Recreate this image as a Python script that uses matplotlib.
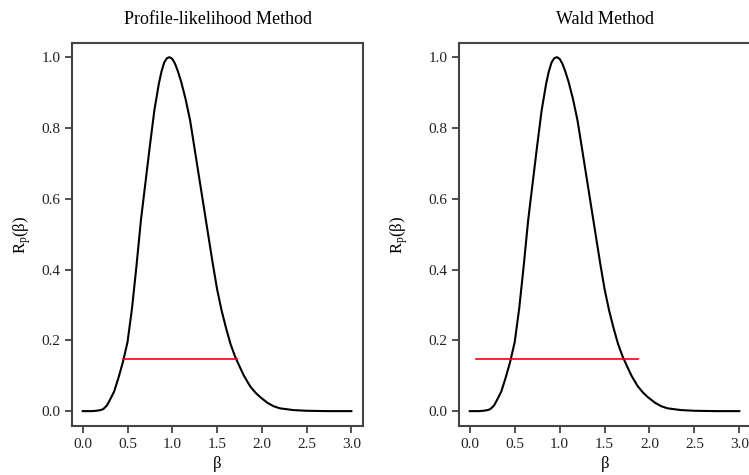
import matplotlib
matplotlib.use("Agg")
import matplotlib.pyplot as plt

plt.rcParams.update(
    {
        "font.family": "Liberation Serif",
        "mathtext.fontset": "custom",
        "mathtext.rm": "Liberation Serif",
        "mathtext.it": "Liberation Serif:italic",
        "font.size": 11,
    }
)

# relative profile likelihood
BETA = [0.0, 0.1, 0.15, 0.2, 0.23, 0.27, 0.3, 0.35, 0.4, 0.45, 0.5, 0.55, 0.6,
        0.65, 0.7, 0.75, 0.8, 0.85, 0.88, 0.91, 0.94, 0.97, 1.0, 1.03, 1.06,
        1.1, 1.15, 1.2, 1.25, 1.3, 1.35, 1.4, 1.45, 1.5, 1.55, 1.6, 1.65, 1.7,
        1.75, 1.8, 1.87, 1.93, 1.98, 2.06, 2.13, 2.2, 2.35, 2.5, 2.75, 3.0]
RP = [0.0, 0.0, 0.001, 0.003, 0.006, 0.016, 0.03, 0.055, 0.095, 0.14, 0.195,
      0.29, 0.41, 0.54, 0.645, 0.75, 0.85, 0.925, 0.96, 0.985, 0.997, 1.0,
      0.995, 0.982, 0.962, 0.93, 0.88, 0.82, 0.74, 0.66, 0.58, 0.5, 0.42,
      0.345, 0.285, 0.235, 0.19, 0.155, 0.127, 0.1, 0.07, 0.052, 0.04, 0.024,
      0.014, 0.008, 0.003, 0.001, 0.0, 0.0]

CUTOFF = 0.147
PL_INTERVAL = (0.452, 1.72)
WALD_INTERVAL = (0.074, 1.87)

PANELS = [
    ("Profile-likelihood Method", PL_INTERVAL, [72 / 749, 49 / 475, 291 / 749, 383 / 475], 6),
    ("Wald Method", WALD_INTERVAL, [459 / 749, 49 / 475, 292 / 749, 383 / 475], 13),
]

fig = plt.figure(figsize=(7.49, 4.75), dpi=100)
for title, interval, pos, pad in PANELS:
    ax = fig.add_axes(pos)
    ax.plot(BETA, RP, color="black", linewidth=1.5)
    ax.plot(interval, [CUTOFF, CUTOFF], color="red", linewidth=1.2)
    ax.set_xlim(-0.12, 3.13)
    ax.set_ylim(-0.042, 1.04)
    ax.set_xticks([0.0, 0.5, 1.0, 1.5, 2.0, 2.5, 3.0])
    ax.set_yticks([0.0, 0.2, 0.4, 0.6, 0.8, 1.0])
    ax.xaxis.set_major_formatter(matplotlib.ticker.FormatStrFormatter("%.1f"))
    ax.yaxis.set_major_formatter(matplotlib.ticker.FormatStrFormatter("%.1f"))
    ax.tick_params(direction="out", length=5, width=1.2, labelsize=11, colors="#333333",
                   labelcolor="#222222")
    for sp in ax.spines.values():
        sp.set_linewidth(1.5)
        sp.set_color("#444444")
    ax.set_title(title, fontsize=13, pad=14)
    ax.set_xlabel("β", fontsize=12, labelpad=4)
    ax.set_ylabel(r"R$_\mathregular{p}$(β)", fontsize=12, labelpad=pad)

fig.savefig("out.png", dpi=100)
